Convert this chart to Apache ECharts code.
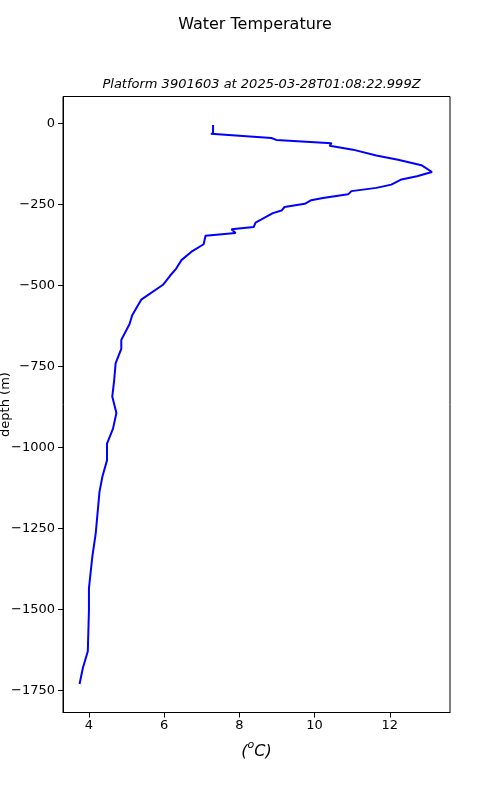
<!DOCTYPE html>
<html>
<head>
<meta charset="utf-8">
<script src="https://cdn.jsdelivr.net/npm/echarts@6/dist/echarts.min.js"></script>
<style>html,body{margin:0;padding:0;background:#fff;}#c{width:500px;height:800px;}</style>
</head>
<body>
<div id="c"></div>
<script>
const titleText = 'Water Temperature';
const subtitleText = 'Platform 3901603 at 2025-03-28T01:08:22.999Z';
const yAxisTitle = 'depth (m)';
const xTicks = [4, 6, 8, 10, 12];
const yTicks = [0, -250, -500, -750, -1000, -1250, -1500, -1750];
const temps = [7.30, 7.30, 7.24, 8.85, 8.98, 10.45, 10.40, 11.02, 11.64, 12.22, 12.84, 13.12, 12.72, 12.31, 12.04, 11.64, 10.98, 10.89, 10.22, 9.91, 9.74, 9.20, 9.12, 8.89, 8.72, 8.43, 8.38, 7.79, 7.90, 7.10, 7.05, 6.75, 6.46, 6.32, 6.15, 5.97, 5.39, 5.15, 5.08, 4.86, 4.86, 4.71, 4.67, 4.62, 4.73, 4.64, 4.48, 4.48, 4.36, 4.28, 4.18, 4.09, 4.00, 4.00, 3.97, 3.84, 3.75];
const depths = [-5, -32, -32, -45, -51, -61, -69, -81, -99, -112, -129, -150, -163, -173, -189, -199, -209, -219, -230, -237, -248, -258, -269, -277, -288, -306, -320, -327, -338, -347, -373, -394, -422, -448, -471, -498, -544, -592, -619, -668, -696, -740, -794, -843, -894, -942, -988, -1040, -1089, -1137, -1265, -1337, -1434, -1501, -1629, -1680, -1730];

const chart = echarts.init(document.getElementById('c'), null, {renderer: 'canvas'});
const fam = 'DejaVu Sans';
const fmt = v => (v < 0 ? '\u2212' + Math.abs(v) : String(v));
chart.setOption({
  animation: false,
  backgroundColor: '#fff',
  textStyle: {fontFamily: fam},
  title: [
    {text: titleText, left: 250, top: 12, textAlign: 'center',
     textStyle: {fontFamily: fam, fontSize: 16, fontWeight: 'normal', color: '#000'}},
    {text: subtitleText, left: 256.5, top: 73, textAlign: 'center',
     textStyle: {fontFamily: fam, fontSize: 13, fontWeight: 'normal', fontStyle: 'italic', color: '#000'}}
  ],
  graphic: [{
    type: 'text', x: 6, y: 404.5, rotation: Math.PI / 2,
    style: {text: yAxisTitle, fontFamily: fam, fontSize: 13, fill: '#000', align: 'center', verticalAlign: 'middle'}
  }],
  grid: {left: 63, top: 96.5, right: 50, bottom: 87.5, show: true, borderColor: '#000', borderWidth: 1, backgroundColor: 'transparent', containLabel: false, outerBoundsMode: 'none'},
  xAxis: {
    type: 'value', min: 3.31, max: 13.6,
    name: '{p|(}{s|o}{p|C)}', nameLocation: 'middle', nameGap: 27,
    nameTextStyle: {rich: {
      p: {fontFamily: fam, fontSize: 16, fontStyle: 'italic', color: '#000', verticalAlign: 'bottom', lineHeight: 20},
      s: {fontFamily: fam, fontSize: 11, fontStyle: 'italic', color: '#000', verticalAlign: 'top', lineHeight: 20, padding: [0, 0, 8, 0]}
    }},
    axisLine: {show: true, onZero: false, lineStyle: {color: '#000', width: 1}},
    axisTick: {show: true, length: 5, inside: false, customValues: xTicks, lineStyle: {color: '#000'}},
    axisLabel: {show: true, customValues: xTicks, formatter: fmt, color: '#000', fontSize: 13, fontFamily: fam, margin: 7},
    splitLine: {show: false}
  },
  yAxis: {
    type: 'value', min: -1818, max: 83,
    axisLine: {show: true, onZero: false, lineStyle: {color: '#000', width: 1}},
    axisTick: {show: true, length: 5, inside: false, customValues: yTicks, lineStyle: {color: '#000'}},
    axisLabel: {show: true, customValues: yTicks, formatter: fmt, color: '#000', fontSize: 13, fontFamily: fam, margin: 8},
    splitLine: {show: false}
  },
  series: [{
    type: 'line',
    data: temps.map((t, i) => [t, depths[i]]),
    showSymbol: false,
    symbol: 'none',
    lineStyle: {color: '#0000ff', width: 2},
    itemStyle: {color: '#0000ff'}
  }]
});
</script>
</body>
</html>
